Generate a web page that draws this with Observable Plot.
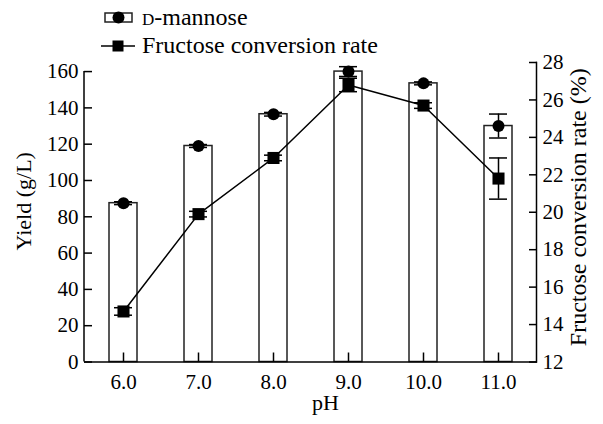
<!DOCTYPE html>
<html><head><meta charset="utf-8">
<script src="https://cdn.jsdelivr.net/npm/d3@7"></script>
<script src="https://cdn.jsdelivr.net/npm/@observablehq/plot@0.6"></script>
<style>
body{margin:0;background:#fff;}
#wrap{position:relative;width:603px;height:424px;font-family:"Liberation Serif","Times New Roman",serif;}
#legend{position:absolute;left:0;top:0;}
</style></head><body><div id="wrap"></div>
<script>
// ---- data ----
const phLabels = ["6.0", "7.0", "8.0", "9.0", "10.0", "11.0"];
const mannose = [87.5, 119, 136.5, 160, 153.5, 130];
const mannoseErr = [0.8, 0.8, 1.0, 2.7, 0.8, 6.6];
const conversion = [14.7, 19.9, 22.9, 26.8, 25.7, 21.8];
const conversionErr = [0.2, 0.15, 0.15, 0.36, 0.15, 1.1];
const leftTicks = [0, 20, 40, 60, 80, 100, 120, 140, 160];
const rightTicks = [12, 14, 16, 18, 20, 22, 24, 26, 28];
const leftTitle = "Yield (g/L)";
const rightTitle = "Fructose conversion rate (%)";
const xTitle = "pH";
const legendMannose = ["D", "-mannose"];
const legendConversion = "Fructose conversion rate";

// right axis mapped onto the left scale
const leftTop = 165, rightMin = 12, rightMax = 28;
const k = leftTop / (rightMax - rightMin);
const toLeft = r => (r - rightMin) * k;

const rows = phLabels.map((ph, i) => ({
  ph,
  m: mannose[i], mlo: mannose[i] - mannoseErr[i], mhi: mannose[i] + mannoseErr[i],
  c: toLeft(conversion[i]),
  clo: toLeft(conversion[i] - conversionErr[i]),
  chi: toLeft(conversion[i] + conversionErr[i])
}));

const W = 603, H = 424;
const mL = 84, mR = 67, mT = 62, mB = 62.5;
const FF = '"Liberation Serif","Times New Roman",serif';

const chart = Plot.plot({
  width: W, height: H,
  marginLeft: mL, marginRight: mR, marginTop: mT, marginBottom: mB,
  style: {fontFamily: FF, fontSize: "21px", color: "#000", background: "transparent", overflow: "visible"},
  x: {type: "band", domain: phLabels, paddingInner: 0.632, paddingOuter: 0.316},
  y: {domain: [0, leftTop]},
  marks: [
    Plot.barY(rows, {x: "ph", y: "m", fill: "white", stroke: "#222", strokeWidth: 1.5}),
    Plot.ruleY([0], {stroke: "#000", strokeWidth: 1.5}),
    Plot.frame({anchor: "right", stroke: "#000", strokeWidth: 1.5}),
    Plot.axisX({tickSize: -9, tickPadding: 21, strokeWidth: 1.5, label: null, fontSize: 21}),
    Plot.axisY(leftTicks, {anchor: "left", tickSize: -8, tickPadding: 14, strokeWidth: 1.5, label: null, fontSize: 21}),
    Plot.axisY(rightTicks.map(toLeft), {anchor: "right", tickSize: -8, tickPadding: 14, strokeWidth: 1.5, label: null, fontSize: 21,
      tickFormat: v => String(Math.round(v / k + rightMin))}),
    // mannose error bars
    Plot.ruleX(rows, {x: "ph", y1: "mlo", y2: "mhi", strokeWidth: 1.5}),
    Plot.tickY(rows, {x: "ph", y: "mlo", insetLeft: 5, insetRight: 5, strokeWidth: 1.5}),
    Plot.tickY(rows, {x: "ph", y: "mhi", insetLeft: 5, insetRight: 5, strokeWidth: 1.5}),
    // conversion error bars
    Plot.ruleX(rows, {x: "ph", y1: "clo", y2: "chi", strokeWidth: 1.5}),
    Plot.tickY(rows, {x: "ph", y: "clo", insetLeft: 5, insetRight: 5, strokeWidth: 1.5}),
    Plot.tickY(rows, {x: "ph", y: "chi", insetLeft: 5, insetRight: 5, strokeWidth: 1.5}),
    Plot.line(rows, {x: "ph", y: "c", stroke: "#000", strokeWidth: 1.5}),
    Plot.dot(rows, {x: "ph", y: "m", r: 6, fill: "#000", stroke: null}),
    Plot.dot(rows, {x: "ph", y: "c", symbol: "square", r: 6.8, fill: "#000", stroke: null}),
    Plot.text([leftTitle], {frameAnchor: "left", textAnchor: "middle", rotate: -90, dx: -61, dy: -11, fontSize: 22}),
    Plot.text([rightTitle], {frameAnchor: "right", textAnchor: "middle", rotate: -90, dx: 42, dy: -5, fontSize: 24}),
    Plot.text([xTitle], {frameAnchor: "bottom", textAnchor: "middle", dx: 15, dy: 48, fontSize: 22})
  ]
});
document.getElementById("wrap").appendChild(chart);

// left axis line from 0 to the top tick
const ys = chart.scale("y");
d3.select(chart).append("line")
  .attr("x1", mL).attr("x2", mL)
  .attr("y1", ys.apply(0)).attr("y2", ys.apply(leftTicks[leftTicks.length - 1]))
  .attr("stroke", "#000").attr("stroke-width", 1.5);

// legend
const lg = d3.select("#wrap").append("svg").attr("id", "legend")
  .attr("width", 420).attr("height", 62)
  .style("font-family", FF);
lg.append("rect").attr("x", 105).attr("y", 13).attr("width", 27).attr("height", 9)
  .attr("fill", "white").attr("stroke", "#222").attr("stroke-width", 1.5);
lg.append("circle").attr("cx", 118.5).attr("cy", 17.5).attr("r", 6).attr("fill", "#000");
const t1 = lg.append("text").attr("x", 142).attr("y", 25).attr("font-size", 24);
t1.append("tspan").attr("font-size", 17).text(legendMannose[0]);
t1.append("tspan").text(legendMannose[1]);
lg.append("line").attr("x1", 101).attr("x2", 135).attr("y1", 46).attr("y2", 46)
  .attr("stroke", "#000").attr("stroke-width", 1.5);
lg.append("rect").attr("x", 112.5).attr("y", 40.5).attr("width", 11).attr("height", 11).attr("fill", "#000");
lg.append("text").attr("x", 142).attr("y", 53).attr("font-size", 24).text(legendConversion);
</script></body></html>
